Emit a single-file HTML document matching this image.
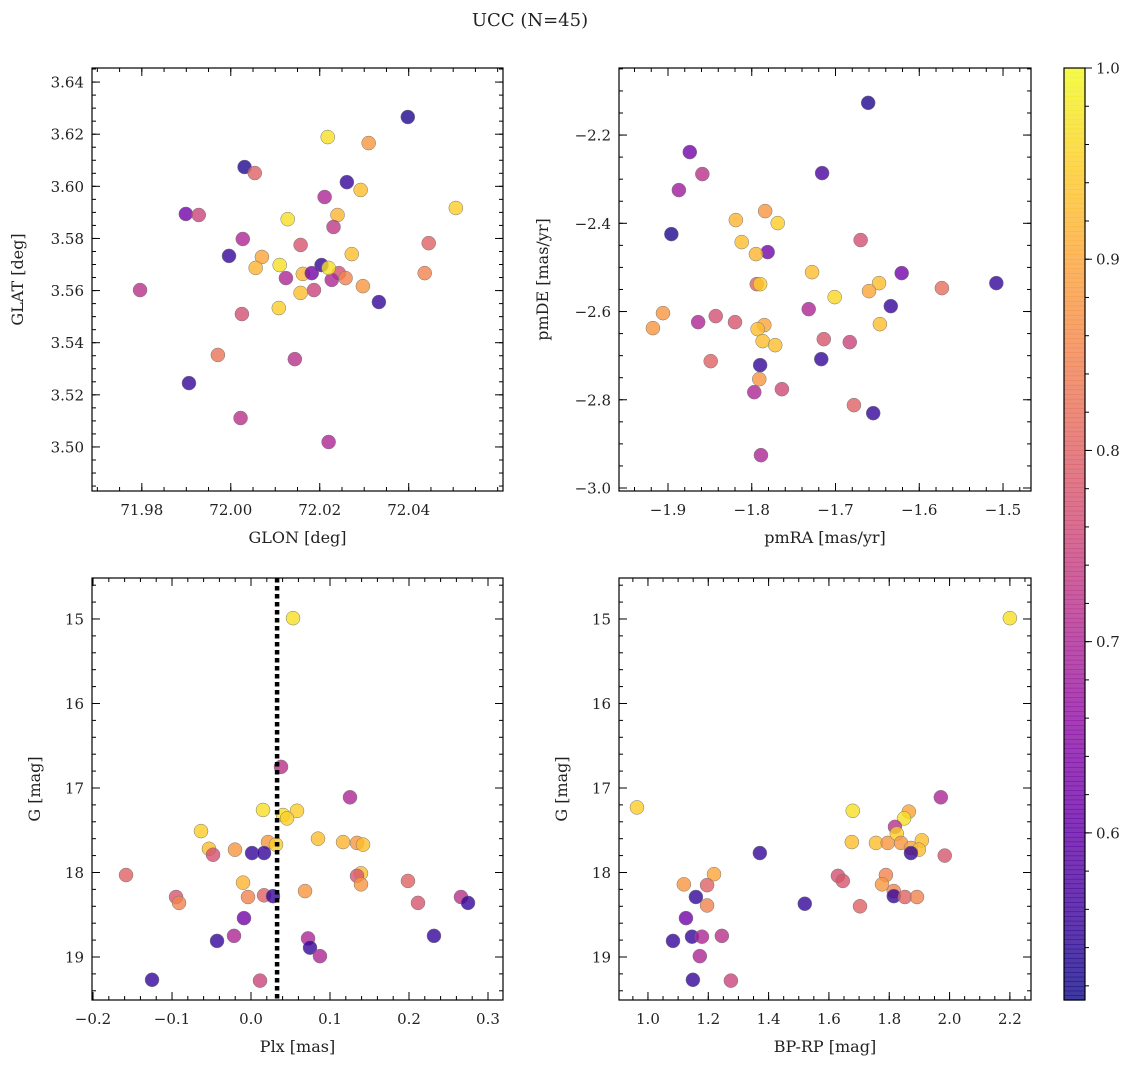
<!DOCTYPE html>
<html><head><meta charset="utf-8">
<style>
body{margin:0;background:#fff;}
svg text{font-family:"DejaVu Serif","Liberation Serif",serif;fill:#222;}
</style></head>
<body>
<svg id="fig" width="1136" height="1068" xmlns="http://www.w3.org/2000/svg">
<text x="530" y="26" font-size="18" text-anchor="middle">UCC (N=45)</text>
</svg>
<script>
// ---- Panel 1: GLON / GLAT ----
const glon=[72.0398,72.0218,72.031,72.0031,72.0054,72.0261,72.0292,72.0211,72.0506,71.9899,71.9928,72.0128,72.024,72.0231,71.9996,72.0027,72.0157,72.0445,72.007,72.0272,72.0056,72.011,72.0204,71.9796,72.0124,72.0162,72.0182,72.0243,72.0258,72.0227,72.022,72.0187,72.0157,72.0297,72.0333,72.0108,72.0025,71.9971,72.0144,71.9906,72.0022,72.022,72.0436];
const glat=[3.6266,3.6189,3.6166,3.6074,3.6051,3.6016,3.5986,3.5959,3.5917,3.5894,3.589,3.5874,3.589,3.5844,3.5733,3.5798,3.5775,3.5782,3.5729,3.574,3.5687,3.5698,3.5698,3.5602,3.5648,3.5664,3.5667,3.5667,3.5648,3.5641,3.5687,3.5602,3.5591,3.5617,3.5556,3.5533,3.551,3.5353,3.5337,3.5245,3.5111,3.5019,3.5667];
const prob1=[0.53,0.97,0.88,0.53,0.8,0.55,0.93,0.7,0.95,0.62,0.75,0.97,0.92,0.73,0.55,0.7,0.78,0.8,0.9,0.93,0.92,0.97,0.55,0.72,0.7,0.92,0.62,0.77,0.85,0.7,0.97,0.75,0.93,0.88,0.55,0.95,0.77,0.83,0.72,0.55,0.72,0.7,0.85];
// ---- Panel 2: pmRA / pmDE ----
const pmra=[-1.661,-1.874,-1.887,-1.859,-1.716,-1.819,-1.784,-1.769,-1.896,-1.812,-1.670,-1.781,-1.795,-1.728,-1.621,-1.794,-1.790,-1.648,-1.508,-1.573,-1.66,-1.701,-1.634,-1.732,-1.906,-1.843,-1.864,-1.82,-1.785,-1.647,-1.918,-1.793,-1.714,-1.787,-1.772,-1.683,-1.849,-1.717,-1.790,-1.791,-1.764,-1.797,-1.678,-1.655,-1.789];
const pmde=[-2.127,-2.2386,-2.3247,-2.2884,-2.2862,-2.3927,-2.3723,-2.3995,-2.4245,-2.4426,-2.438,-2.4653,-2.4698,-2.5107,-2.5129,-2.5379,-2.5379,-2.5356,-2.5356,-2.5469,-2.5537,-2.5673,-2.5878,-2.5946,-2.6036,-2.6104,-2.624,-2.624,-2.6308,-2.6286,-2.6376,-2.6399,-2.6626,-2.6671,-2.6762,-2.6694,-2.7125,-2.7079,-2.7215,-2.7533,-2.776,-2.7828,-2.8122,-2.8304,-2.9256];
const prob2=[0.53,0.62,0.68,0.72,0.57,0.92,0.88,0.95,0.53,0.93,0.77,0.62,0.92,0.93,0.62,0.8,0.95,0.93,0.55,0.82,0.9,0.96,0.55,0.7,0.88,0.77,0.7,0.78,0.9,0.93,0.88,0.93,0.78,0.93,0.93,0.75,0.8,0.55,0.55,0.88,0.76,0.7,0.8,0.55,0.7];
// ---- Panel 3: Plx / G ----
const plx=[0.0532,0.038,0.1253,0.0152,0.0582,0.0405,0.0456,-0.0633,0.0848,0.1165,0.1342,0.1418,0.0215,0.0316,-0.0532,-0.0203,-0.0481,0.0013,0.0165,0.1392,0.1342,0.1392,-0.1582,-0.0101,0.0684,0.1987,-0.0949,-0.0038,0.0165,0.0278,0.2658,0.2747,-0.0911,0.2114,-0.0089,-0.0215,-0.043,0.0722,0.2316,0.0747,0.0873,-0.1253,0.0114];
const g3=[14.99,16.75,17.11,17.26,17.27,17.32,17.36,17.51,17.60,17.64,17.65,17.67,17.64,17.67,17.72,17.73,17.79,17.77,17.77,18.01,18.04,18.14,18.03,18.12,18.22,18.10,18.29,18.29,18.27,18.28,18.29,18.36,18.36,18.36,18.54,18.75,18.81,18.78,18.75,18.89,18.99,19.27,19.28];
const prob3=[0.97,0.72,0.7,0.97,0.95,0.97,0.95,0.95,0.93,0.92,0.88,0.93,0.88,0.95,0.93,0.88,0.77,0.55,0.55,0.93,0.78,0.88,0.8,0.92,0.88,0.8,0.78,0.85,0.8,0.55,0.72,0.55,0.85,0.78,0.62,0.7,0.55,0.7,0.55,0.55,0.7,0.55,0.75];
const plxLine=[0.033];
// ---- Panel 4: BP-RP / G ----
const bprp=[2.2,0.9635,1.971,1.679,1.865,1.849,1.819,1.908,1.676,1.756,1.795,1.825,1.839,1.872,1.898,1.872,1.984,1.371,1.219,1.630,1.646,1.789,1.119,1.196,1.776,1.815,1.815,1.852,1.892,1.159,1.703,1.196,1.520,1.126,1.245,1.146,1.179,1.083,1.172,1.149,1.275];
const g4=[14.99,17.23,17.11,17.27,17.28,17.36,17.46,17.62,17.64,17.65,17.65,17.54,17.65,17.71,17.73,17.77,17.80,17.77,18.02,18.04,18.10,18.03,18.14,18.15,18.14,18.22,18.28,18.29,18.29,18.29,18.40,18.39,18.37,18.54,18.75,18.76,18.76,18.81,18.99,19.27,19.28];
const prob4=[0.97,0.95,0.7,0.97,0.9,0.97,0.72,0.93,0.93,0.93,0.88,0.95,0.88,0.9,0.93,0.55,0.78,0.55,0.9,0.77,0.78,0.85,0.88,0.8,0.88,0.85,0.55,0.8,0.85,0.55,0.8,0.85,0.55,0.62,0.72,0.55,0.7,0.55,0.7,0.55,0.75];
// tick labels
const ticks1x=[71.98,72.00,72.02,72.04], ticks1y=[3.50,3.52,3.54,3.56,3.58,3.60,3.62,3.64];
const ticks2x=[-1.9,-1.8,-1.7,-1.6,-1.5], ticks2y=[-3.0,-2.8,-2.6,-2.4,-2.2];
const ticks3x=[-0.2,-0.1,0.0,0.1,0.2,0.3], ticksG=[15,16,17,18,19];
const ticks4x=[1.0,1.2,1.4,1.6,1.8,2.0,2.2];
const cbTicks=[0.6,0.7,0.8,0.9,1.0];
const cmin=0.5126,cmax=1.0;

const NS="http://www.w3.org/2000/svg";
const svg=document.getElementById('fig');
function mk(tag,attrs,parent){const e=document.createElementNS(NS,tag);for(const k in attrs)e.setAttribute(k,attrs[k]);(parent||svg).appendChild(e);return e;}
const stops=["#0d0887","#41049d","#6a00a8","#8f0da4","#b12a90","#cc4778","#e16462","#f2844b","#fca636","#fcce25","#f0f921"];
function hex(h){return [1,3,5].map(i=>parseInt(h.substr(i,2),16));}
function plasma(t){t=Math.max(0,Math.min(1,t));const f=t*10,i=Math.min(9,Math.floor(f)),r=f-i;const a=hex(stops[i]),b=hex(stops[i+1]);return 'rgb('+a.map((v,k)=>Math.round(v+(b[k]-v)*r)).join(',')+')';}
function cval(p){return plasma((p-cmin)/(cmax-cmin));}
function fmt(v,d){const s=Math.abs(v).toFixed(d);return (v<-1e-9?'\u2212':'')+s;}

function panel(o){
  const g=mk('g',{});
  
  
  const sx=v=>o.x0+(v-o.xd[0])/(o.xd[1]-o.xd[0])*(o.x1-o.x0);
  const sy=v=>o.inv? o.y0+(v-o.yd[0])/(o.yd[1]-o.yd[0])*(o.y1-o.y0) : o.y1-(v-o.yd[0])/(o.yd[1]-o.yd[0])*(o.y1-o.y0);
  for(let i=0;i<o.xs.length;i++){
    const c=mk('circle',{cx:sx(o.xs[i]),cy:sy(o.ys[i]),r:7,fill:cval(o.ps[i]),'fill-opacity':0.8,stroke:'#777','stroke-width':0.5},g);
    
    
  }
  if(o.vline){o.vline.forEach(v=>{const l=mk('line',{x1:sx(v),x2:sx(v),y1:o.y0,y2:o.y1,stroke:'#000','stroke-width':4.5,'stroke-dasharray':'4.5,3.5'},g);
    
    });}
  mk('rect',{x:o.x0,y:o.y0,width:o.x1-o.x0,height:o.y1-o.y0,fill:'none',stroke:'#000','stroke-width':1.2},g);
  for(let v=Math.ceil(o.xd[0]/o.xm-1e-6)*o.xm;v<=o.xd[1];v+=o.xm){const x=sx(v);mk('line',{x1:x,x2:x,y1:o.y1,y2:o.y1-4,stroke:'#000'},g);mk('line',{x1:x,x2:x,y1:o.y0,y2:o.y0+4,stroke:'#000'},g);}
  for(let v=Math.ceil(o.yd[0]/o.ym-1e-6)*o.ym;v<=o.yd[1];v+=o.ym){const y=sy(v);mk('line',{x1:o.x0,x2:o.x0+4,y1:y,y2:y,stroke:'#000'},g);mk('line',{x1:o.x1,x2:o.x1-4,y1:y,y2:y,stroke:'#000'},g);}
  o.xt.forEach(v=>{const x=sx(v);mk('line',{x1:x,x2:x,y1:o.y1,y2:o.y1-8,stroke:'#000'},g);mk('line',{x1:x,x2:x,y1:o.y0,y2:o.y0+8,stroke:'#000'},g);
    const t=mk('text',{x:x,y:o.y1+24,'font-size':15,'text-anchor':'middle'},g);t.textContent=fmt(v,o.xdec);
    });
  o.yt.forEach(v=>{const y=sy(v);mk('line',{x1:o.x0,x2:o.x0+8,y1:y,y2:y,stroke:'#000'},g);mk('line',{x1:o.x1,x2:o.x1-8,y1:y,y2:y,stroke:'#000'},g);
    const t=mk('text',{x:o.x0-8,y:y+5.5,'font-size':15,'text-anchor':'end'},g);t.textContent=fmt(v,o.ydec);
    });
  const xl=mk('text',{x:(o.x0+o.x1)/2,y:o.y1+52,'font-size':16,'text-anchor':'middle'},g);xl.textContent=o.xlab;
  
  const yx=o.ylx,yc=(o.y0+o.y1)/2;
  const yl=mk('text',{x:yx,y:yc,'font-size':16,'text-anchor':'middle',transform:'rotate(-90 '+yx+' '+yc+')'},g);yl.textContent=o.ylab;
  
}
panel({name:'glon-glat-panel',x0:92,x1:503,y0:68,y1:491,xd:[71.9688,72.0612],yd:[3.4831,3.6454],xs:glon,ys:glat,ps:prob1,xt:ticks1x,yt:ticks1y,xm:0.005,ym:0.005,xdec:2,ydec:2,xlab:'GLON [deg]',ylab:'GLAT [deg]',ylx:23});
panel({name:'pm-panel',x0:619,x1:1031,y0:68,y1:491,xd:[-1.9585,-1.4666],yd:[-3.0068,-2.048],xs:pmra,ys:pmde,ps:prob2,xt:ticks2x,yt:ticks2y,xm:0.02,ym:0.05,xdec:1,ydec:1,xlab:'pmRA [mas/yr]',ylab:'pmDE [mas/yr]',ylx:548});
panel({name:'plx-g-panel',x0:92,x1:503,y0:578,y1:1000,xd:[-0.2013,0.3190],yd:[14.515,19.509],inv:true,xs:plx,ys:g3,ps:prob3,xt:ticks3x,yt:ticksG,xm:0.02,ym:0.2,xdec:1,ydec:0,xlab:'Plx [mas]',ylab:'G [mag]',ylx:40,vline:plxLine});
panel({name:'cmd-panel',x0:619,x1:1031,y0:578,y1:1000,xd:[0.904,2.270],yd:[14.515,19.509],inv:true,xs:bprp,ys:g4,ps:prob4,xt:ticks4x,yt:ticksG,xm:0.05,ym:0.2,xdec:1,ydec:0,xlab:'BP-RP [mag]',ylab:'G [mag]',ylx:567});
const cb=mk('g',{});


const cx0=1064,cx1=1085,cy0=68,cy1=1000,N=200;
for(let i=0;i<N;i++){const t0=i/N;mk('rect',{x:cx0,y:cy1-(i+1)/N*(cy1-cy0),width:cx1-cx0,height:(cy1-cy0)/N+0.6,fill:plasma(t0+0.5/N),'fill-opacity':0.8},cb);}
mk('rect',{x:cx0,y:cy0,width:cx1-cx0,height:cy1-cy0,fill:'none',stroke:'#000','stroke-width':1.2},cb);
const cby=v=>cy1-(v-cmin)/(cmax-cmin)*(cy1-cy0);
for(let v=0.52;v<=1.0001;v+=0.02){const y=cby(v);mk('line',{x1:cx1,x2:cx1+4,y1:y,y2:y,stroke:'#000'},cb);}
cbTicks.forEach(v=>{const y=cby(v);mk('line',{x1:cx1,x2:cx1+7,y1:y,y2:y,stroke:'#000'},cb);
  const t=mk('text',{x:1096,y:y+5.5,'font-size':15},cb);t.textContent=v.toFixed(1);
  });
</script>
</body></html>
